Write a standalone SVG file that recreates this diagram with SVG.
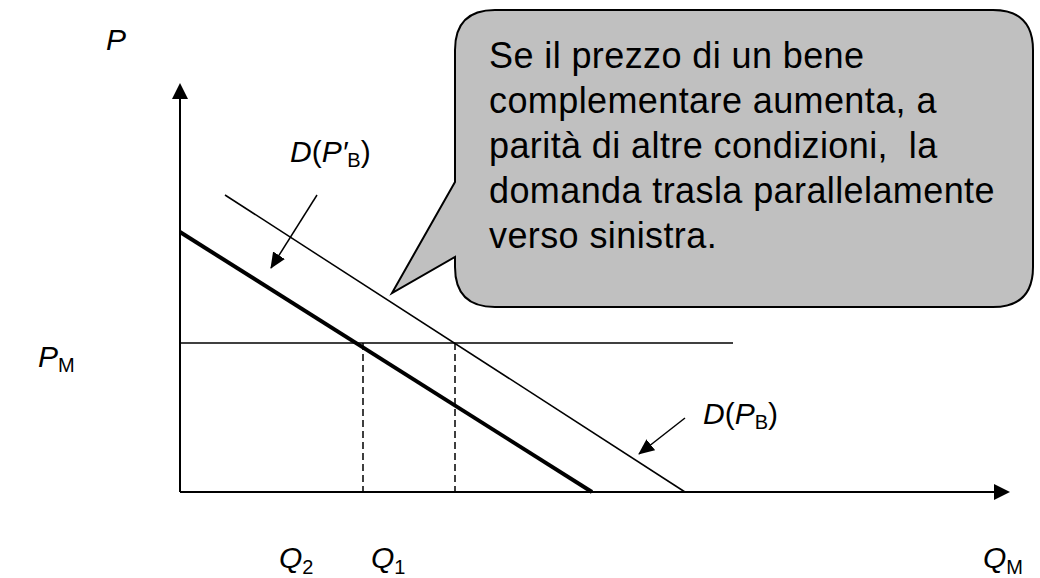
<svg xmlns="http://www.w3.org/2000/svg" width="1040" height="578" viewBox="0 0 1040 578">
<defs>
<style>
.ax{stroke:#000;stroke-width:2;fill:none}
.thin{stroke:#000;stroke-width:1.5;fill:none}
.thick{stroke:#000;stroke-width:4;fill:none}
.dash{stroke:#000;stroke-width:1.5;fill:none;stroke-dasharray:7 4}
.lbl{font-family:"Liberation Sans",Arial,sans-serif;font-size:30px;fill:#000}
.it{font-style:italic}
.sub{font-size:20px}
.call{font-family:"Liberation Sans",Arial,sans-serif;font-size:36px;letter-spacing:0.4px;fill:#000}
</style>
<marker id="ah2" markerWidth="16" markerHeight="16" refX="15" refY="8" orient="auto" markerUnits="userSpaceOnUse" viewBox="0 0 16 16">
<path d="M0,1 L16,8 L0,15 z" fill="#000"/>
</marker>
</defs>
<rect width="1040" height="578" fill="#fff"/>
<g id="axes">
<line class="ax" x1="180" y1="492" x2="180" y2="98"/>
<path d="M172,99 L180,83 L188,99 z" fill="#000"/>
<line class="ax" x1="180" y1="492" x2="995" y2="492"/>
<path d="M994,484 L1010,492 L994,500 z" fill="#000"/>
</g>
<g id="curves">
<line class="thin" x1="180" y1="343" x2="733" y2="343"/>
<line class="dash" x1="363" y1="343" x2="363" y2="492"/>
<line class="dash" x1="455" y1="343" x2="455" y2="492"/>
<line class="thick" x1="180" y1="232" x2="592" y2="492"/>
<line class="thin" x1="225" y1="195" x2="685" y2="492"/>
</g>
<g id="connectors">
<line class="thin" x1="317" y1="195" x2="271" y2="268" marker-end="url(#ah2)"/>
<line class="thin" x1="685" y1="418" x2="639" y2="454" marker-end="url(#ah2)"/>
</g>
<g id="callout">
<path d="M495,10 L993,10 Q1033,10 1033,50 L1033,267 Q1033,307 993,307 L495,307 Q455,307 455,267 L455,257 L392,293 L455,182 L455,50 Q455,10 495,10 z" fill="#c0c0c0" stroke="#000" stroke-width="2"/>
<text class="call" x="489" y="68">Se il prezzo di un bene</text>
<text class="call" x="489" y="113">complementare aumenta, a</text>
<text class="call" x="489" y="158" xml:space="preserve">parità di altre condizioni,  la</text>
<text class="call" x="489" y="203">domanda trasla parallelamente</text>
<text class="call" x="489" y="248">verso sinistra.</text>
</g>
<g id="labels">
<text class="lbl it" x="106" y="50">P</text>
<text class="lbl" x="38" y="367"><tspan class="it">P</tspan><tspan class="sub" dy="5">M</tspan></text>
<text class="lbl" x="290" y="162"><tspan class="it">D</tspan>(<tspan class="it">P′</tspan><tspan class="sub" dy="5">B</tspan><tspan dy="-5">)</tspan></text>
<text class="lbl" x="703" y="424"><tspan class="it">D</tspan>(<tspan class="it">P</tspan><tspan class="sub" dy="5">B</tspan><tspan dy="-5">)</tspan></text>
<text class="lbl" x="279" y="568"><tspan class="it">Q</tspan><tspan class="sub" dy="6">2</tspan></text>
<text class="lbl" x="371" y="568"><tspan class="it">Q</tspan><tspan class="sub" dy="6">1</tspan></text>
<text class="lbl" x="983" y="568"><tspan class="it">Q</tspan><tspan class="sub" dy="6">M</tspan></text>
</g>
</svg>
